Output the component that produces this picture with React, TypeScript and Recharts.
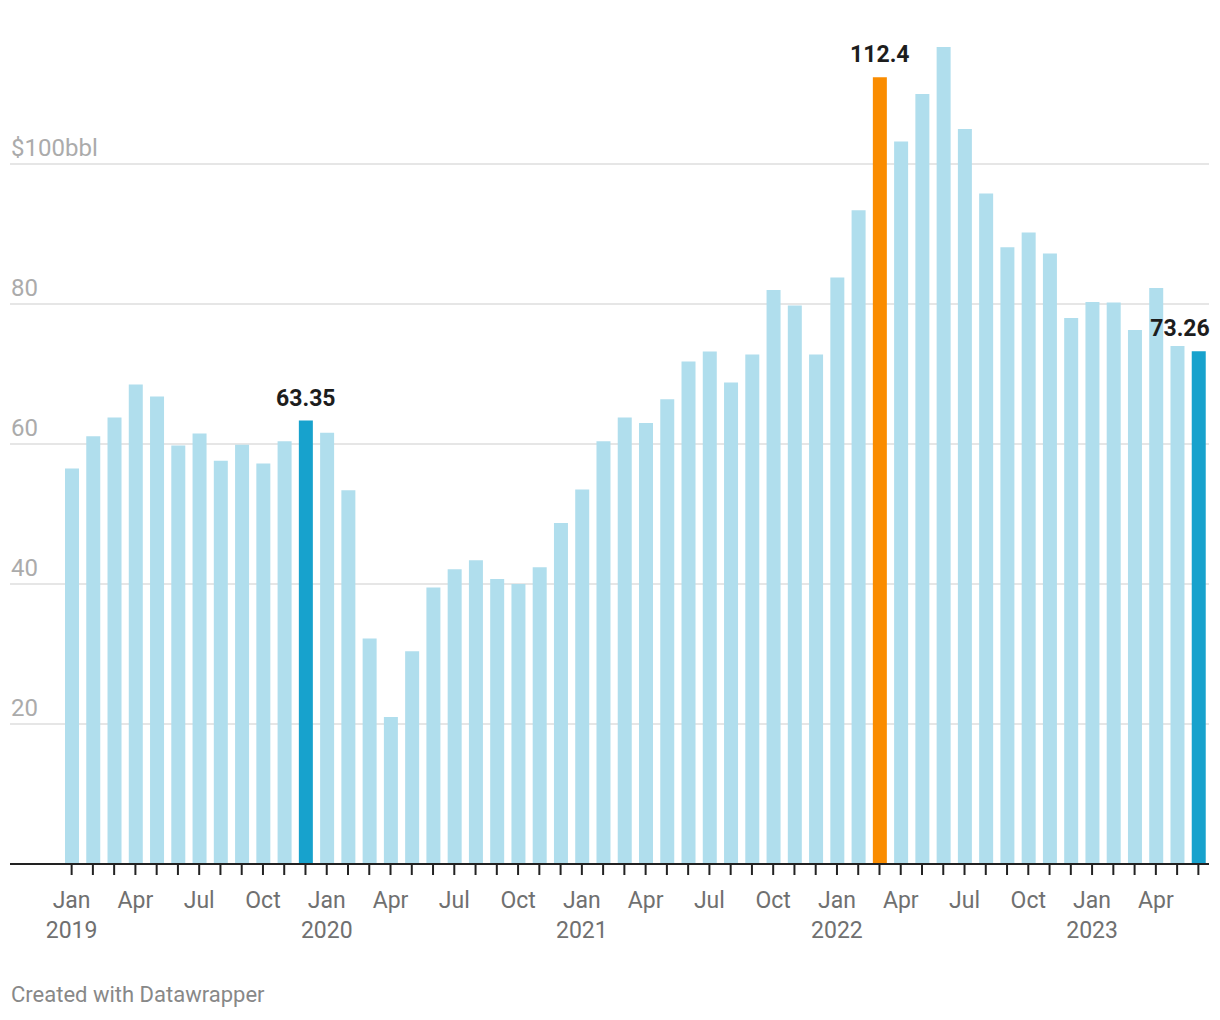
import React from 'react';
import { BarChart, Bar, XAxis, YAxis, CartesianGrid, Cell, LabelList } from 'recharts';

// Brent crude, monthly average, $ per barrel
const monthNames = ['Jan', 'Feb', 'Mar', 'Apr', 'May', 'Jun', 'Jul', 'Aug', 'Sep', 'Oct', 'Nov', 'Dec'];
const years = [2019, 2020, 2021, 2022, 2023];

const prices2019 = [56.5, 61.1, 63.8, 68.5, 66.8, 59.8, 61.5, 57.6, 59.9, 57.2, 60.4, 63.35];
const prices2020 = [61.6, 53.4, 32.2, 21.0, 30.4, 39.5, 42.1, 43.4, 40.7, 40.0, 42.4, 48.7];
const prices2021 = [53.5, 60.4, 63.8, 63.0, 66.4, 71.8, 73.2, 68.8, 72.8, 82.0, 79.8, 72.8];
const prices2022 = [83.8, 93.4, 112.4, 103.2, 110.0, 116.7, 105.0, 95.8, 88.1, 90.2, 87.2, 78.0];
const prices2023 = [80.3, 80.2, 76.3, 82.3, 74.0, 73.26];

const yTicks = [20, 40, 60, 80, 100];
const labelledMonths = ['Jan', 'Apr', 'Jul', 'Oct'];

// highlighted months -> bar colour
const highlightMonths = ['Dec 2019', 'Mar 2022', 'Jun 2023'];
const highlightColors = ['#17a2cd', '#fa8c00', '#17a2cd'];

const baseColor = '#b0deed';

const allPrices = [...prices2019, ...prices2020, ...prices2021, ...prices2022, ...prices2023];

const data = allPrices.map((price, i) => {
  const month = `${monthNames[i % 12]} ${years[Math.floor(i / 12)]}`;
  const h = highlightMonths.indexOf(month);
  return {
    month,
    price,
    color: h >= 0 ? highlightColors[h] : baseColor,
    label: h >= 0 ? String(price) : '',
  };
});

const lastLabel = data[data.length - 1].label;
const FONT = 'Roboto, sans-serif';

const MonthTick = (props: any) => {
  const { x, y, payload } = props;
  const [m, yr] = String(payload.value).split(' ');
  if (!labelledMonths.includes(m)) return <g />;
  return (
    <g>
      <text x={x} y={y + 33} textAnchor="middle" fill="#707070" fontSize={23} fontFamily={FONT}>
        {m}
      </text>
      {m === 'Jan' && (
        <text x={x} y={y + 63} textAnchor="middle" fill="#707070" fontSize={23} fontFamily={FONT}>
          {yr}
        </text>
      )}
    </g>
  );
};

const PriceTick = (props: any) => {
  const { x, y, payload } = props;
  const v = payload.value;
  return (
    <text x={x + 1} y={y - 8} textAnchor="start" fill="#ababab" fontSize={24} fontFamily={FONT}>
      {v === 100 ? '$100bbl' : v}
    </text>
  );
};

const ValueLabel = (props: any) => {
  const { x, y, width, value } = props;
  if (!value) return null;
  const isLast = value === lastLabel;
  return (
    <text
      x={isLast ? x + width + 4 : x + width / 2}
      y={y - 15}
      textAnchor={isLast ? 'end' : 'middle'}
      fill="#1d1d1d"
      fontSize={23}
      fontWeight={700}
      fontFamily={FONT}
    >
      {value}
    </text>
  );
};

export default function App() {
  return (
    <div
      style={{
        position: 'absolute',
        left: 0,
        top: 0,
        width: 1220,
        height: 1020,
        background: '#fff',
        fontFamily: FONT,
      }}
    >
      <BarChart width={1220} height={1020} data={data} margin={{ top: 24, right: 11, bottom: 0, left: 10 }}>
        <CartesianGrid vertical={false} horizontalValues={yTicks} stroke="#e6e6e6" strokeWidth={2} />
        <XAxis
          dataKey="month"
          interval={0}
          height={156}
          padding={{ left: 51, right: 0 }}
          axisLine={{ stroke: '#222', strokeWidth: 2 }}
          tickLine={{ stroke: '#222', strokeWidth: 2 }}
          tickSize={11}
          tickMargin={0}
          tick={<MonthTick />}
        />
        <YAxis
          domain={[0, 120]}
          ticks={yTicks}
          mirror
          width={60}
          axisLine={false}
          tickLine={false}
          tickSize={0}
          tickMargin={0}
          tick={<PriceTick />}
        />
        <Bar dataKey="price" barSize={14} isAnimationActive={false}>
          {data.map((d) => (
            <Cell key={d.month} fill={d.color} />
          ))}
          <LabelList dataKey="label" content={<ValueLabel />} />
        </Bar>
      </BarChart>
      <div
        style={{
          position: 'absolute',
          left: 11,
          top: 982,
          fontSize: 22,
          color: '#888',
          fontFamily: FONT,
        }}
      >
        Created with Datawrapper
      </div>
    </div>
  );
}
